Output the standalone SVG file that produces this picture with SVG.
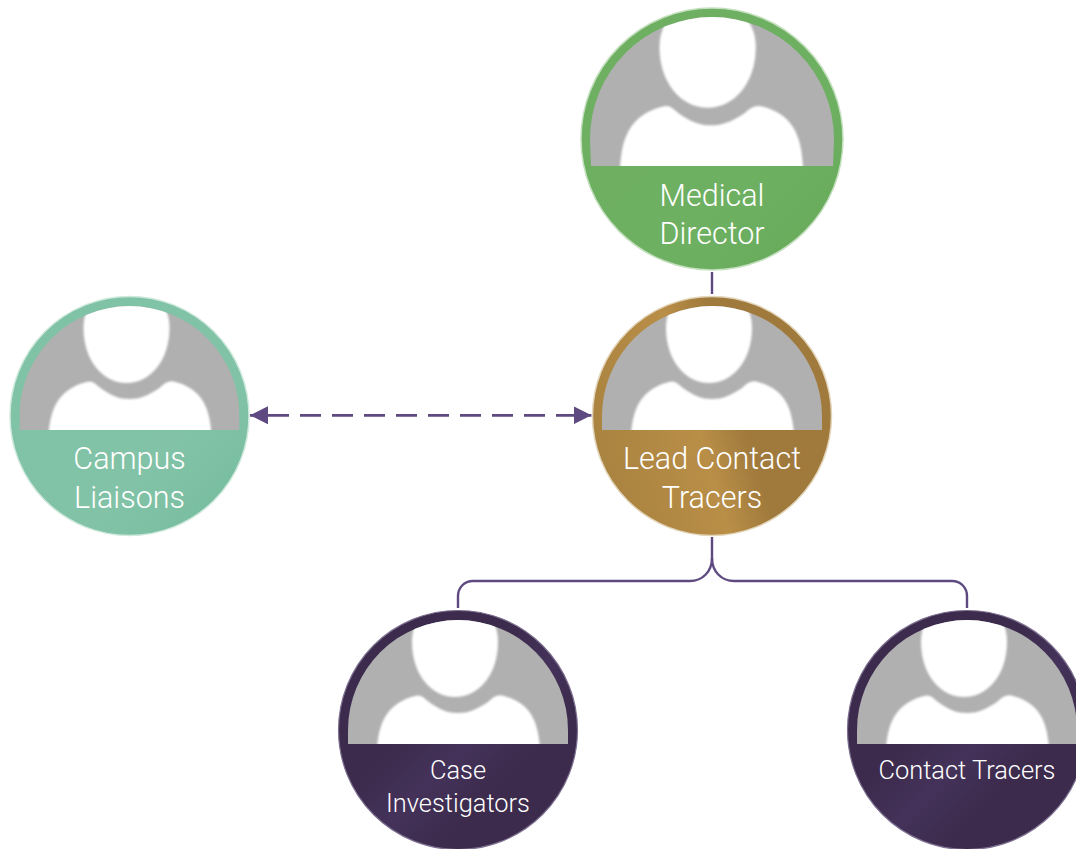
<svg xmlns="http://www.w3.org/2000/svg" width="1076" height="849" viewBox="0 0 1076 849">
<style>
text{font-family:Roboto,"Liberation Sans",sans-serif;font-weight:300;fill:#fff;text-anchor:middle}
.big{font-size:30.5px}
.small{font-size:25.4px}
.gray{fill:#b0b0b0}
.conn{fill:none;stroke:#5e4a80;stroke-width:2.4}
.dash{stroke-width:2.7;stroke-dasharray:21 11;stroke-dashoffset:-18}
.person{fill:#fff;filter:url(#soft)}
</style>
<defs>
<filter id="soft" x="-5%" y="-5%" width="110%" height="110%"><feGaussianBlur stdDeviation="0.8"/></filter>
<linearGradient id="gGreen" x1="0" y1="0" x2="1" y2="1"><stop offset="0" stop-color="#6eaf62"/><stop offset="0.65" stop-color="#6eb062"/><stop offset="1" stop-color="#66a958"/></linearGradient>
<linearGradient id="gMint" x1="0" y1="0" x2="1" y2="1"><stop offset="0" stop-color="#7fc2a4"/><stop offset="0.65" stop-color="#82c3a7"/><stop offset="1" stop-color="#74bb9c"/></linearGradient>
<linearGradient id="gGold" x1="0" y1="0.6" x2="1" y2="0.3"><stop offset="0" stop-color="#a98340"/><stop offset="0.42" stop-color="#b98e47"/><stop offset="0.6" stop-color="#a07a3c"/><stop offset="1" stop-color="#a07a3c"/></linearGradient>
<linearGradient id="gPurple" x1="0" y1="0" x2="1" y2="1"><stop offset="0" stop-color="#3c2b4c"/><stop offset="0.4" stop-color="#3c2b4c"/><stop offset="0.55" stop-color="#44325a"/><stop offset="0.7" stop-color="#3c2b4c"/><stop offset="1" stop-color="#3c2b4c"/></linearGradient>
<marker id="arrow" viewBox="0 0 18 18" refX="18" refY="9" markerWidth="18" markerHeight="18" markerUnits="userSpaceOnUse" orient="auto-start-reverse"><path d="M0 0L18 9L0 18Z" fill="#5e4a80"/></marker>
<g id="person"><path d="M-46-88C-46-56-27-33-3-33C21-33 40-56 40-88C40-115 20-130-3-130C-26-130-46-115-46-88Z"/><path d="M-81 40C-83-3-74-26-43-34C-37-36-34-32-29-28C-18-20-10-17 0-17C10-17 18-20 30-28C35-33 40-36 46-34C76-26 84-3 82 40Z"/></g>
<clipPath id="cMed"><path d="M-122 0A122 122 0 0 1 122 0L121 27H-121Z"/></clipPath>
<clipPath id="cStd"><path d="M-110 0A110 110 0 0 1 110 0L110 14H-110Z"/></clipPath>
</defs>
<rect width="1076" height="849" fill="#fff"/>
<g id="connectors">
<path class="conn" d="M712 272V294"/>
<path class="conn" d="M712 537V558C712 572 702 581 690 581H473C464 581 458 588 458 596V608"/>
<path class="conn" d="M712 558C712 572 722 581 734 581H952C961 581 967 588 967 596V608"/>
<path class="conn dash" d="M250 415.3H591.5" marker-start="url(#arrow)" marker-end="url(#arrow)"/>
</g>
<g id="node-medical-director" transform="translate(712 139)">
<circle r="131" fill="url(#gGreen)" stroke="#c5e0bf" stroke-width="1.5"/>
<g clip-path="url(#cMed)"><rect class="gray" x="-125" y="-125" width="250" height="155"/><use href="#person" class="person" transform="translate(-1 5) scale(1.12 1.1)"/></g>
<text class="big" y="66.5">Medical</text><text class="big" y="104.5">Director</text>
</g>
<g id="node-campus-liaisons" transform="translate(129.5 416)">
<circle r="119.5" fill="url(#gMint)" stroke="#cfe9dd" stroke-width="1.5"/>
<g clip-path="url(#cStd)"><rect class="gray" x="-115" y="-115" width="230" height="130"/><use href="#person" class="person"/></g>
<text class="big" y="53">Campus</text><text class="big" y="92">Liaisons</text>
</g>
<g id="node-lead-contact-tracers" transform="translate(712 416)">
<circle r="119.5" fill="url(#gGold)" stroke="#e3d5bb" stroke-width="1.5"/>
<g clip-path="url(#cStd)"><rect class="gray" x="-115" y="-115" width="230" height="130"/><use href="#person" class="person"/></g>
<text class="big" y="53">Lead Contact</text><text class="big" y="92">Tracers</text>
</g>
<g id="node-case-investigators" transform="translate(458 730)">
<circle r="119.5" fill="url(#gPurple)" stroke="#7d7090" stroke-width="1.2"/>
<g clip-path="url(#cStd)"><rect class="gray" x="-115" y="-115" width="230" height="130"/><use href="#person" class="person"/></g>
<text class="small" y="49">Case</text><text class="small" y="81.5">Investigators</text>
</g>
<g id="node-contact-tracers" transform="translate(967 730)">
<circle r="119.5" fill="url(#gPurple)" stroke="#7d7090" stroke-width="1.2"/>
<g clip-path="url(#cStd)"><rect class="gray" x="-115" y="-115" width="230" height="130"/><use href="#person" class="person"/></g>
<text class="small" y="49">Contact Tracers</text>
</g>
</svg>
